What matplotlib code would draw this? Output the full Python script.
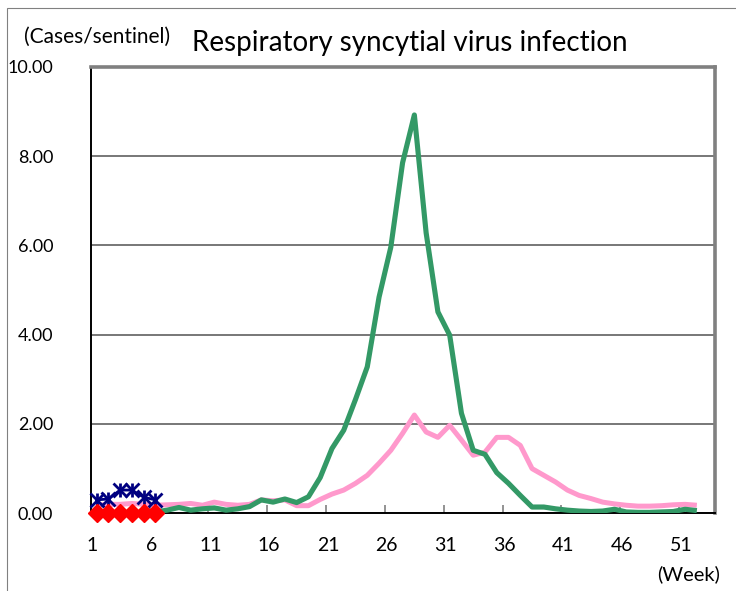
import numpy as np
import matplotlib
matplotlib.use("Agg")
import matplotlib.pyplot as plt
from matplotlib.patches import Rectangle
from matplotlib.transforms import ScaledTranslation

# weekly reports (cases per sentinel)
weeks_now = [1, 2, 3, 4, 5, 6]
now_values = [0.30, 0.32, 0.52, 0.52, 0.36, 0.30]
zero_values = [0.0, 0.0, 0.0, 0.0, 0.0, 0.0]

weeks_last = list(range(6, 53))
last_values = [0.03, 0.07, 0.13, 0.07, 0.10, 0.12, 0.07, 0.10, 0.15, 0.30,
               0.25, 0.32, 0.24, 0.37, 0.80, 1.45, 1.86, 2.55, 3.28, 4.84,
               5.96, 7.85, 8.92, 6.28, 4.51, 3.99, 2.24, 1.41, 1.32, 0.91,
               0.67, 0.40, 0.14, 0.14, 0.10, 0.07, 0.05, 0.04, 0.05, 0.09,
               0.03, 0.02, 0.02, 0.03, 0.04, 0.09, 0.06]

weeks_avg = list(range(1, 53))
avg_values = [0.18, 0.20, 0.20, 0.22, 0.20, 0.18, 0.19, 0.20, 0.22, 0.18,
              0.25, 0.20, 0.18, 0.20, 0.30, 0.28, 0.30, 0.17, 0.17, 0.31,
              0.43, 0.52, 0.67, 0.85, 1.12, 1.41, 1.79, 2.20, 1.82, 1.70,
              1.97, 1.64, 1.30, 1.37, 1.70, 1.70, 1.52, 1.00, 0.85, 0.70,
              0.52, 0.40, 0.33, 0.25, 0.21, 0.18, 0.16, 0.16, 0.17, 0.19,
              0.20, 0.18]

week_labels = [1, 6, 11, 16, 21, 26, 31, 36, 41, 46, 51]
y_ticks = [0, 2, 4, 6, 8, 10]

plt.rcParams['font.family'] = ['Lato', 'DejaVu Sans']

fig = plt.figure(figsize=(7.36, 5.91), dpi=100)
ax = fig.add_axes([0.1232, 0.1315, 0.8476, 0.7556])

# thin frame round the chart area
fig.patches.append(Rectangle((7.3 / 736, -0.1), 1.2, (591 - 8.3) / 591 + 0.1,
                             transform=fig.transFigure, fill=False,
                             edgecolor="#808080", linewidth=0.8))

ax.plot(weeks_avg, avg_values, color="#FF99CC", linewidth=3.6, solid_capstyle="butt", zorder=3)
ax.plot(weeks_last, last_values, color="#339966", linewidth=3.7, solid_capstyle="butt", zorder=4)
ax.plot(weeks_now, now_values, color="#000080", linewidth=2.0, marker="x",
        markersize=9.5, markeredgewidth=2.0, zorder=5, clip_on=False)
ax.plot(weeks_now, now_values, linestyle="none", color="#000080", marker="|",
        markersize=10.5, markeredgewidth=2.0, zorder=5, clip_on=False)
ax.plot(weeks_now, zero_values, color="#FF0000", linewidth=1.5, marker="D",
        markersize=9.5, markeredgecolor="#FF0000", zorder=6, clip_on=False)

ax.set_xlim(0.5, 53.5)
ax.set_ylim(0, 10)
ax.set_yticks(y_ticks)
ax.set_yticklabels([f"{v:.2f}" for v in y_ticks])
ax.set_xticks(week_labels)
ax.set_xticklabels([str(w) for w in week_labels])
ax.set_xticks(np.arange(5.5, 53.5, 5), minor=True)
ax.tick_params(axis="x", which="major", length=0, pad=17, labelsize=14)
ax.tick_params(axis="x", which="minor", direction="in", length=6, width=1.2, color="#808080")
ax.tick_params(axis="y", length=0, pad=27, labelsize=13)
for lab in ax.get_xticklabels():
    lab.set_transform(lab.get_transform() + ScaledTranslation(-0.04, 0, fig.dpi_scale_trans))

ax.grid(axis="y", color="#606060", linewidth=1.2)
ax.set_axisbelow(True)
for side in ["left", "bottom"]:
    ax.spines[side].set_color("black")
    ax.spines[side].set_linewidth(1.4)
for side in ["top", "right"]:
    ax.spines[side].set_color("#808080")
    ax.spines[side].set_linewidth(2.6)

fig.text(191.7 / 736, (591 - 51) / 591, "Respiratory syncytial virus infection",
         fontsize=20, ha="left", va="baseline")
fig.text(24 / 736, (591 - 36.5) / 591, "(Cases/sentinel)", fontsize=15, ha="left", va="center")
fig.text(720 / 736, (591 - 574) / 591, "(Week)", fontsize=14.5, ha="right", va="center")

fig.savefig("out.png", dpi=100)
